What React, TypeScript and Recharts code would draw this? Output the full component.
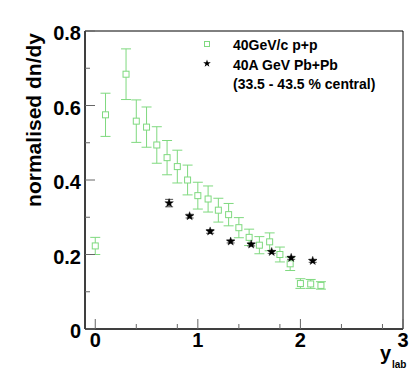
import React from 'react'
import { ScatterChart, Scatter, XAxis, YAxis, ErrorBar, ReferenceArea } from 'recharts'

// 40 GeV/c p+p
const ppX   = [0.0, 0.1, 0.3, 0.4, 0.5, 0.6, 0.7, 0.8, 0.9, 1.0, 1.1, 1.2, 1.3, 1.4, 1.5, 1.6, 1.7, 1.8, 1.9, 2.0, 2.1, 2.2]
const ppY   = [0.223, 0.575, 0.684, 0.558, 0.542, 0.494, 0.460, 0.436, 0.400, 0.358, 0.349, 0.319, 0.307, 0.272, 0.246, 0.225, 0.234, 0.200, 0.175, 0.122, 0.121, 0.117]
const ppErr = [0.023, 0.058, 0.068, 0.057, 0.054, 0.049, 0.046, 0.044, 0.040, 0.036, 0.035, 0.032, 0.030, 0.027, 0.022, 0.023, 0.024, 0.020, 0.018, 0.013, 0.012, 0.010]

// 40A GeV Pb+Pb (33.5 - 43.5 % central)
const pbX   = [0.72, 0.92, 1.12, 1.32, 1.52, 1.72, 1.91, 2.12]
const pbY   = [0.338, 0.303, 0.262, 0.235, 0.227, 0.207, 0.191, 0.183]
const pbErr = [0.010, 0.005, 0.005, 0.004, 0.004, 0.004, 0.004, 0.004]

const xTicks = [0, 0.2, 0.4, 0.6, 0.8, 1, 1.2, 1.4, 1.6, 1.8, 2, 2.2, 2.4, 2.6, 2.8, 3]
const yTicks = [0, 0.05, 0.1, 0.15, 0.2, 0.25, 0.3, 0.35, 0.4, 0.45, 0.5, 0.55, 0.6, 0.65, 0.7, 0.75, 0.8]

const ppData = ppX.map((x, i) => ({ x, y: ppY[i], err: ppErr[i] }))
const pbData = pbX.map((x, i) => ({ x, y: pbY[i], err: pbErr[i] }))

const GREEN = '#7fd97f'
const FONT = '"Liberation Sans", Arial, sans-serif'

const isMajor = (v: number, step: number) => Math.abs(v / step - Math.round(v / step)) < 1e-6

function YTick({ x, y, payload }: any) {
  const v = payload.value
  const major = isMajor(v, 0.2)
  return (
    <g>
      <line x1={x} x2={x + (major ? 10 : 5)} y1={y} y2={y} stroke="#666" />
      {major && (
        <text x={x - 4} y={y + 9} textAnchor="end" fontSize={20} fontWeight="bold" fontFamily={FONT} fill="#000">
          {v === 0 ? '0' : v.toFixed(1)}
        </text>
      )}
    </g>
  )
}

function XTick({ x, y, payload }: any) {
  const v = payload.value
  const major = isMajor(v, 1)
  return (
    <g>
      <line x1={x} x2={x} y1={y} y2={y - (major ? 10 : 5)} stroke="#666" />
      {major && (
        <text x={x} y={y + 18} textAnchor="middle" fontSize={20} fontWeight="bold" fontFamily={FONT} fill="#000">
          {String(v)}
        </text>
      )}
    </g>
  )
}

function starPoints(cx: number, cy: number, ro: number, ri: number) {
  const pts: string[] = []
  for (let k = 0; k < 10; k++) {
    const r = k % 2 === 0 ? ro : ri
    const a = -Math.PI / 2 + (k * Math.PI) / 5
    pts.push(`${cx + r * Math.cos(a)},${cy + r * Math.sin(a)}`)
  }
  return pts.join(' ')
}

const Square = ({ cx, cy }: any) => (
  <rect x={cx - 3} y={cy - 3} width={6} height={6} fill="#fff" stroke={GREEN} strokeWidth={1} />
)

const Star = ({ cx, cy }: any) => (
  <polygon points={starPoints(cx, cy, 4.5, 1.8)} fill="#000" stroke="#000" strokeWidth={0.4} />
)

export default function App() {
  return (
    <div style={{ position: 'absolute', left: 0, top: 0, width: 415, height: 391, background: '#fff', fontFamily: FONT }}>
      <ScatterChart width={415} height={391} margin={{ top: 31, right: 12, bottom: 0, left: 0 }}>
        <XAxis
          type="number"
          dataKey="x"
          domain={[-0.1, 3]}
          ticks={xTicks}
          tick={<XTick />}
          tickSize={0}
          tickMargin={0}
          tickLine={false}
          height={62}
          axisLine={{ stroke: '#000' }}
          allowDataOverflow
        />
        <YAxis
          type="number"
          dataKey="y"
          domain={[0, 0.8]}
          ticks={yTicks}
          tick={<YTick />}
          tickSize={0}
          tickMargin={0}
          tickLine={false}
          width={85}
          axisLine={{ stroke: '#000' }}
          allowDataOverflow
        />
        <ReferenceArea x1={-0.1} x2={3} y1={0} y2={0.8} stroke="#000" strokeWidth={1} fill="none" fillOpacity={0} />
        <Scatter data={ppData} shape={<Square />} isAnimationActive={false}>
          <ErrorBar dataKey="err" direction="y" width={5} stroke={GREEN} strokeWidth={1} />
        </Scatter>
        <Scatter data={pbData} shape={<Star />} isAnimationActive={false}>
          <ErrorBar dataKey="err" direction="y" width={4} stroke="#555" strokeWidth={1} />
        </Scatter>
      </ScatterChart>

      <svg width={415} height={391} style={{ position: 'absolute', left: 0, top: 0, pointerEvents: 'none' }}>
        <text transform="translate(41,33) rotate(-90)" textAnchor="end" fontSize={21} fontWeight="bold" fontFamily={FONT} fill="#000">
          normalised dn/dy
        </text>
        <text x={380} y={360} fontSize={20} fontWeight="bold" fontFamily={FONT} fill="#000">y</text>
        <text x={392} y={368} fontSize={10} fontWeight="bold" fontFamily={FONT} fill="#000">lab</text>

        <rect x={204.5} y={41.5} width={5} height={5} fill="#fff" stroke={GREEN} />
        <text x={233} y={50} fontSize={14} fontWeight="bold" fontFamily={FONT} fill="#000">40GeV/c p+p</text>
        <polygon points={starPoints(207, 63.5, 4, 1.6)} fill="#000" />
        <text x={233} y={70} fontSize={14} fontWeight="bold" fontFamily={FONT} fill="#000">40A GeV Pb+Pb</text>
        <text x={233} y={89} fontSize={14} fontWeight="bold" fontFamily={FONT} fill="#000">(33.5 - 43.5 % central)</text>
      </svg>
    </div>
  )
}
